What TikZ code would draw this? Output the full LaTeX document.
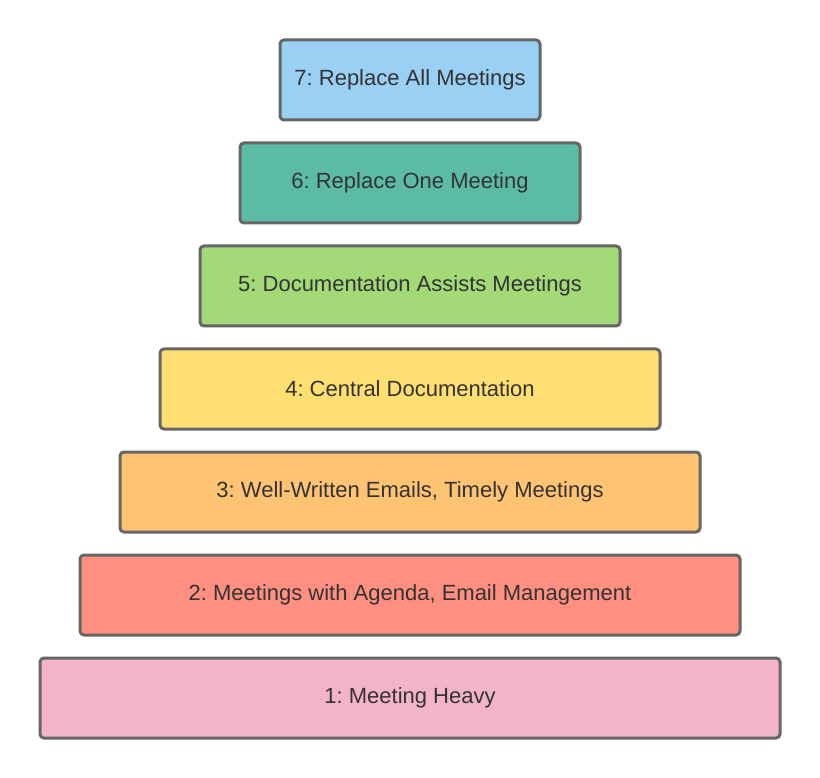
\documentclass[tikz,border=0pt]{standalone}
\usepackage{fontspec}
\setmainfont{Liberation Sans}
\usepackage{xcolor}
\usepackage{tikz}
\frenchspacing
\definecolor{lvlblue}{HTML}{9AD0F3}
\definecolor{lvlteal}{HTML}{5CBBA6}
\definecolor{lvlgreen}{HTML}{A3D977}
\definecolor{lvlyellow}{HTML}{FFDF71}
\definecolor{lvlorange}{HTML}{FFC374}
\definecolor{lvlsalmon}{HTML}{FF8F80}
\definecolor{lvlpink}{HTML}{F4B4C8}
\definecolor{lvledge}{HTML}{666666}
\definecolor{lvltext}{HTML}{333333}
\newcommand*\lvlheight{80pt}
\tikzset{
    level/.style   = {draw=lvledge, line width=3pt, rounded corners=4pt,
                    minimum height=\lvlheight, inner sep=0pt, outer sep=0pt,
                    text=lvltext, font=\fontsize{22}{26}\selectfont},
    bluelevel/.style   = {level,fill=lvlblue},
    teallevel/.style   = {level,fill=lvlteal},
    greenlevel/.style  = {level,fill=lvlgreen},
    yellowlevel/.style = {level,fill=lvlyellow},
    orangelevel/.style = {level,fill=lvlorange},
    salmonlevel/.style = {level,fill=lvlsalmon},
    pinklevel/.style   = {level,fill=lvlpink},
  }
\begin{document}
\begin{tikzpicture}[x=1pt,y=-1pt]
    % canvas with the margins of the picture
    \useasboundingbox (0,0) rectangle (820,778);

    % Stack the levels from the top: width grows by 80pt, step 103pt
    \foreach \name/\sty/\txt [count=\i from 0] in {
        L7/bluelevel/{7: Replace All Meetings},
        L6/teallevel/{6: Replace One Meeting},
        L5/greenlevel/{5: Documentation Assists Meetings},
        L4/yellowlevel/{4: Central Documentation},
        L3/orangelevel/{3: Well-Written Emails, Timely Meetings},
        L2/salmonlevel/{2: Meetings with Agenda, Email Management},
        L1/pinklevel/{1: Meeting Heavy}} {
        \pgfmathsetmacro\w{260+80*\i}
        \node[\sty, minimum width=\w pt] (\name) at (410,{80+103*\i}) {\txt};
    }
\end{tikzpicture}
\end{document}
